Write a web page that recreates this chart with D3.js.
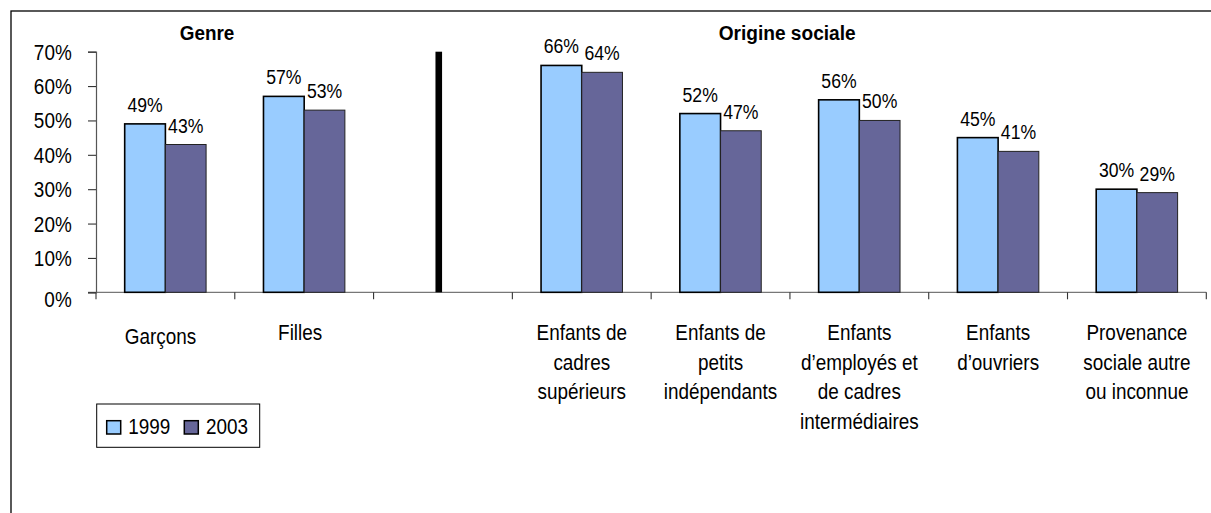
<!DOCTYPE html>
<html lang="fr">
<head>
<meta charset="utf-8">
<title>Genre et origine sociale</title>
<script src="https://d3js.org/d3.v7.min.js"></script>
<style>
  body { margin: 0; background: #fff; }
  svg { display: block; }
  text { font-family: "Liberation Sans", Arial, sans-serif; fill: #000; }
</style>
</head>
<body>
<script>
// categories (the empty 'sep' slot holds the black divider)
const categories = ['garcons', 'filles', 'sep', 'cadres', 'petits', 'employes', 'ouvriers', 'autre']
const categoryLabels = [
  ['Garçons'],
  ['Filles'],
  [],
  ['Enfants de', 'cadres', 'supérieurs'],
  ['Enfants de', 'petits', 'indépendants'],
  ['Enfants', 'd’employés et', 'de cadres', 'intermédiaires'],
  ['Enfants', 'd’ouvriers'],
  ['Provenance', 'sociale autre', 'ou inconnue']
]
const years = ['1999', '2003']
const values1999 = [49, 57, null, 66, 52, 56, 45, 30]
const values2003 = [43, 53, null, 64, 47, 50, 41, 29]
const separatorValue = 70
const yTicks = [0, 10, 20, 30, 40, 50, 60, 70]
const groupTitles = ['Genre', 'Origine sociale']

const colors = { '1999': '#99ccff', '2003': '#666699' }
const squeeze = 0.86

const width = 1211, height = 513
const plot = { left: 96, right: 1206.3, top: 51.7, bottom: 292.3 }

const svg = d3.select('body').append('svg')
  .attr('width', width)
  .attr('height', height)

svg.append('rect')
  .attr('width', width).attr('height', height)
  .attr('fill', '#fff')

// outer frame, runs off the right and bottom of the picture
svg.append('rect')
  .attr('x', 11).attr('y', 11)
  .attr('width', 1300).attr('height', 600)
  .attr('fill', 'none')
  .attr('stroke', '#000')
  .attr('stroke-width', 1.3)

const x = d3.scaleBand()
  .domain(categories)
  .range([plot.left, plot.right])

const xSub = d3.scaleBand()
  .domain(years)
  .range([0, x.bandwidth()])
  .paddingInner(0)
  .paddingOuter(0.705)

const y = d3.scaleLinear()
  .domain([0, 70])
  .range([plot.bottom, plot.top])

const rows = categories.map((c, i) => ({ cat: c, '1999': values1999[i], '2003': values2003[i] }))
const barData = []
rows.forEach(r => years.forEach(yr => { if (r[yr] != null) barData.push({ cat: r.cat, year: yr, value: r[yr] }) }))

// x axis line + boundary ticks
svg.append('line')
  .attr('x1', plot.left - 8).attr('x2', plot.right)
  .attr('y1', y(0)).attr('y2', y(0))
  .attr('stroke', '#777')
  .attr('stroke-width', 1.2)

const bounds = categories.map(c => x(c)).concat([x(categories[categories.length - 1]) + x.bandwidth()])
svg.selectAll('.xtick')
  .data(bounds)
  .join('line')
  .attr('class', 'xtick')
  .attr('x1', d => d).attr('x2', d => d)
  .attr('y1', y(0)).attr('y2', y(0) + 7)
  .attr('stroke', '#333')
  .attr('stroke-width', 1.1)

// y axis
const yAxis = d3.axisLeft(y)
  .tickValues(yTicks)
  .tickSize(8)
  .tickFormat(d => d + '%')

const yAxisGroup = svg.append('g')
  .attr('transform', `translate(${plot.left},0)`)
  .call(yAxis)

yAxisGroup.select('.domain').attr('stroke', '#555').attr('stroke-width', 1.2)
yAxisGroup.selectAll('.tick line').attr('stroke', '#333').attr('stroke-width', 1.1)
yAxisGroup.selectAll('.tick text')
  .attr('x', null)
  .attr('dy', null)
  .attr('fill', '#000')
  .style('font-size', '22px')
  .style('font-family', '"Liberation Sans", Arial, sans-serif')
  .attr('text-anchor', 'end')
  .attr('transform', d => `translate(-24.3,${d === 0 ? 14 : 7.5}) scale(${squeeze},1)`)

// bars
svg.selectAll('.bar')
  .data(barData)
  .join('rect')
  .attr('class', 'bar')
  .attr('x', d => x(d.cat) + xSub(d.year))
  .attr('y', d => y(d.value))
  .attr('width', xSub.bandwidth())
  .attr('height', d => y(0) - y(d.value))
  .attr('fill', d => colors[d.year])
  .attr('stroke', d => d.year === '1999' ? '#000' : '#222')
  .attr('stroke-width', d => d.year === '1999' ? 1.6 : 1)

// black divider between the two groups
svg.append('rect')
  .attr('x', x('sep') + x.bandwidth() / 2 - 7.5)
  .attr('y', y(separatorValue))
  .attr('width', 6.6)
  .attr('height', y(0) - y(separatorValue))
  .attr('fill', '#000')

// value labels
svg.selectAll('.value')
  .data(barData)
  .join('text')
  .attr('class', 'value')
  .attr('text-anchor', 'middle')
  .style('font-size', '21px')
  .attr('transform', d => `translate(${x(d.cat) + xSub(d.year) + xSub.bandwidth() / 2},${y(d.value) - 12}) scale(0.84,1)`)
  .text(d => d.value + '%')

// category labels
const catText = svg.selectAll('.cat')
  .data(categories.map((c, i) => ({ cat: c, lines: categoryLabels[i] })))
  .join('text')
  .attr('class', 'cat')
  .attr('text-anchor', 'middle')
  .style('font-size', '22px')
  .attr('transform', d => `translate(${x(d.cat) + x.bandwidth() / 2 - (d.cat === 'garcons' ? 5 : d.cat === 'filles' ? 4 : 0)},${y(0) + 47.7 + (d.cat === 'garcons' ? 4 : 0)}) scale(${squeeze},1)`)

catText.selectAll('tspan')
  .data(d => d.lines)
  .join('tspan')
  .attr('x', 0)
  .attr('dy', (d, i) => i === 0 ? 0 : 29.7)
  .text(d => d)

// group titles
svg.append('text')
  .attr('text-anchor', 'middle')
  .style('font-size', '21px')
  .style('font-weight', 'bold')
  .attr('transform', `translate(${x('garcons') + x.bandwidth() * 0.8},40) scale(0.9,1)`)
  .text(groupTitles[0])

svg.append('text')
  .attr('text-anchor', 'middle')
  .style('font-size', '21px')
  .style('font-weight', 'bold')
  .attr('transform', `translate(${x('cadres') + x.bandwidth() * 1.98},40) scale(0.91,1)`)
  .text(groupTitles[1])

// legend
const legend = svg.append('g').attr('transform', 'translate(96.7,404)')
legend.append('rect')
  .attr('width', 163).attr('height', 43.3)
  .attr('fill', '#fff')
  .attr('stroke', '#000')
  .attr('stroke-width', 1)

const legendItems = legend.selectAll('.item')
  .data(years)
  .join('g')
  .attr('class', 'item')
  .attr('transform', (d, i) => `translate(${10 + i * 77.6},16.7)`)

legendItems.append('rect')
  .attr('width', 14).attr('height', 13.3)
  .attr('fill', d => colors[d])
  .attr('stroke', '#000')
  .attr('stroke-width', 1.5)

legendItems.append('text')
  .style('font-size', '22px')
  .attr('transform', 'translate(21.6,13.3) scale(0.86,1)')
  .text(d => d)
</script>
</body>
</html>
